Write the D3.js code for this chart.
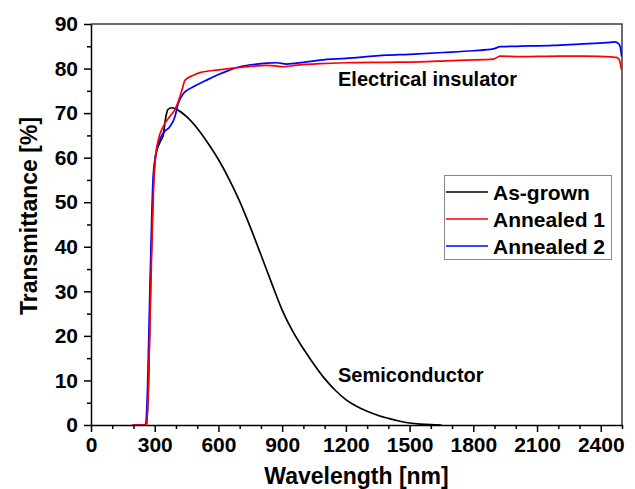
<!DOCTYPE html>
<html>
<head>
<meta charset="utf-8">
<script src="https://cdn.jsdelivr.net/npm/d3@7"></script>
<style>
  html, body { margin: 0; padding: 0; background: #fff; }
  svg { display: block; font-family: "Liberation Sans", Arial, sans-serif; font-weight: bold; }
</style>
</head>
<body>
<svg id="chart" width="635" height="489"></svg>
<script>
// Transmittance spectra: [wavelength nm, transmittance %]
const asGrown = [
  [200,0],[250,0],[262,0.3],[272,12],[282,35],[292,52],[305,60.5],[325,63.5],[340,65],
  [350,68.5],[362,70.8],[380,71.2],[400,70.9],[450,69.2],[500,66.6],[550,63.3],[600,59.6],
  [650,55.2],[700,50.2],[750,44.4],[800,38.2],[850,31.9],[900,25.8],[950,21],[1000,17.1],
  [1050,13.6],[1100,10.4],[1150,7.8],[1200,5.7],[1250,4.2],[1300,3.1],[1350,2.2],
  [1400,1.5],[1450,0.9],[1500,0.45],[1550,0.2],[1600,0.07],[1650,0]
];
const annealed1 = [
  [195,0],[262,0],[270,8],[280,28],[288,43],[296,55],[303,60],[317,64],[340,67],
  [372,69.3],[395,70.8],[410,72.5],[427,75],[443,77.4],[482,78.5],[513,79.1],[600,79.7],
  [670,80.1],[750,80.5],[827,80.7],[870,80.6],[905,80.4],[960,80.7],[1078,81.1],
  [1200,81.3],[1400,81.4],[1549,81.5],[1700,81.8],[1769,81.9],[1894,82.1],[1926,82.8],
  [2020,82.7],[2200,82.8],[2333,82.8],[2450,82.6],[2474,82.5],[2486,82.1],[2498,79.7]
];
const annealed2 = [
  [195,0],[257,0],[266,8],[276,28],[285,45],[293,56],[309,61.7],[340,65.5],[372,67],
  [395,69.2],[411,72.2],[435,74.4],[482,75.9],[540,77.3],[592,78.5],[650,79.6],
  [701,80.4],[780,81],[827,81.2],[874,81.3],[921,81],[1000,81.4],[1078,81.9],
  [1200,82.3],[1392,83],[1500,83.2],[1659,83.6],[1800,84],[1894,84.4],[1926,84.9],
  [2000,85],[2177,85.2],[2300,85.5],[2428,85.8],[2466,86],[2484,85.6],[2492,84.8],[2498,82.7]
];

const seriesNames = ["As-grown", "Annealed 1", "Annealed 2"];
const seriesColors = ["#000000", "#ff0000", "#0000ff"];
const seriesData = [asGrown, annealed1, annealed2];

const xMajorTicks = [0, 300, 600, 900, 1200, 1500, 1800, 2100, 2400];
const yMajorTicks = [0, 10, 20, 30, 40, 50, 60, 70, 80, 90];

const margin = { left: 91, top: 24, right: 622, bottom: 425 };

const svg = d3.select("#chart");

const x = d3.scaleLinear().domain([0, 2500]).range([margin.left, margin.right]);
const y = d3.scaleLinear().domain([0, 90]).range([margin.bottom, margin.top]);

// frame (top and right)
svg.append("path")
  .attr("d", `M${margin.left},${margin.top}H${margin.right}V${margin.bottom}`)
  .attr("fill", "none").attr("stroke", "#3a3a3a").attr("stroke-width", 1.5);

// minor ticks
const xMinor = d3.range(0, 2501, 100).filter(v => v % 300 !== 0);
const yMinor = d3.range(5, 90, 10);

const xAxisMinor = d3.axisBottom(x).tickValues(xMinor).tickSize(4).tickFormat("");
const yAxisMinor = d3.axisLeft(y).tickValues(yMinor).tickSize(4).tickFormat("");

svg.append("g").attr("transform", `translate(0,${margin.bottom})`).call(xAxisMinor)
  .call(g => g.select(".domain").remove())
  .selectAll("line").attr("stroke", "#000").attr("stroke-width", 1.5);
svg.append("g").attr("transform", `translate(${margin.left},0)`).call(yAxisMinor)
  .call(g => g.select(".domain").remove())
  .selectAll("line").attr("stroke", "#000").attr("stroke-width", 1.5);

// major axes
const xAxis = d3.axisBottom(x).tickValues(xMajorTicks).tickFormat(d3.format("d"))
  .tickSize(7).tickSizeOuter(0).tickPadding(5);
const yAxis = d3.axisLeft(y).tickValues(yMajorTicks).tickFormat(d3.format("d"))
  .tickSize(7).tickSizeOuter(0).tickPadding(6);

const gx = svg.append("g").attr("transform", `translate(0,${margin.bottom})`).call(xAxis);
const gy = svg.append("g").attr("transform", `translate(${margin.left},0)`).call(yAxis);

[gx, gy].forEach(g => {
  g.select(".domain").attr("stroke", "#000").attr("stroke-width", 1.5);
  g.selectAll(".tick line").attr("stroke", "#000").attr("stroke-width", 1.5);
  g.selectAll("text").attr("fill", "#000").style("font-size", "21px")
    .style("font-family", "'Liberation Sans', Arial, sans-serif").style("font-weight", "bold");
});

// curves
const line = d3.line().x(d => x(d[0])).y(d => y(d[1])).curve(d3.curveMonotoneX);
const drawOrder = [0, 2, 1];
const clip = svg.append("clipPath").attr("id", "plotclip").append("rect")
  .attr("x", margin.left).attr("y", margin.top - 2)
  .attr("width", margin.right - margin.left).attr("height", margin.bottom - margin.top + 2);
drawOrder.forEach(i => {
  svg.append("path")
    .datum(seriesData[i])
    .attr("clip-path", "url(#plotclip)")
    .attr("fill", "none")
    .attr("stroke", seriesColors[i])
    .attr("stroke-width", 1.7)
    .attr("stroke-linejoin", "round")
    .attr("d", line);
});

// axis titles
svg.append("text")
  .attr("x", (margin.left + margin.right) / 2).attr("y", 484)
  .attr("text-anchor", "middle").style("font-size", "23px")
  .text("Wavelength [nm]");
svg.append("text")
  .attr("transform", "translate(37,216) rotate(-90)")
  .attr("text-anchor", "middle").style("font-size", "23px")
  .text("Transmittance [%]");

// annotations
svg.append("text").attr("x", 338).attr("y", 86).style("font-size", "20px").text("Electrical insulator");
svg.append("text").attr("x", 338).attr("y", 382).style("font-size", "20px").text("Semiconductor");

// legend
const legend = svg.append("g");
legend.append("rect")
  .attr("x", 444.5).attr("y", 175.5).attr("width", 167).attr("height", 84)
  .attr("fill", "#fff").attr("stroke", "#888").attr("stroke-width", 1);
const rowY = [192, 219, 246];
seriesNames.forEach((name, i) => {
  legend.append("line")
    .attr("x1", 446).attr("x2", 488).attr("y1", rowY[i]).attr("y2", rowY[i])
    .attr("stroke", seriesColors[i]).attr("stroke-width", 1.7);
  legend.append("text")
    .attr("x", 493).attr("y", rowY[i] + 7.5).style("font-size", "21px")
    .text(name);
});
</script>
</body>
</html>
